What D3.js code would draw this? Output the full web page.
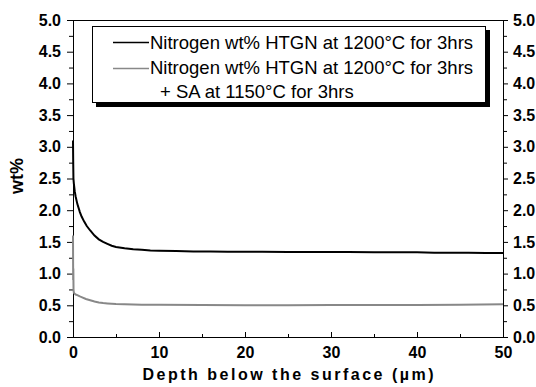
<!DOCTYPE html>
<html>
<head>
<meta charset="utf-8">
<script src="https://cdn.jsdelivr.net/npm/d3@7"></script>
<style>
  html, body { margin: 0; padding: 0; background: #fff; }
  svg { display: block; font-family: Arial, "Liberation Sans", sans-serif; }
</style>
</head>
<body>
<svg id="chart" width="536" height="387"></svg>
<script>
// ---- data ----
const htgnDepth = [0, 0.02, 0.05, 0.1, 0.2, 0.3, 0.5, 0.8, 1.0, 1.3, 1.6, 2.0, 2.5, 3.0, 3.5, 4.0, 4.5, 5.0, 6.0, 7.0, 8.0, 9.0, 10, 12, 14, 16, 18, 20, 22, 25, 28, 30, 32, 35, 38, 40, 42, 44, 46, 48, 50];
const htgnWt = [3.1, 2.8, 2.5, 2.42, 2.3, 2.22, 2.1, 1.97, 1.9, 1.82, 1.75, 1.68, 1.6, 1.54, 1.5, 1.47, 1.44, 1.42, 1.4, 1.385, 1.375, 1.365, 1.36, 1.355, 1.35, 1.35, 1.345, 1.345, 1.345, 1.34, 1.34, 1.34, 1.34, 1.335, 1.335, 1.335, 1.33, 1.33, 1.33, 1.325, 1.325];
const saDepth = [0, 0.02, 0.04, 0.06, 0.08, 0.1, 0.15, 0.2, 0.3, 0.5, 0.8, 1.0, 1.5, 2.0, 2.5, 3.0, 3.5, 4.0, 5, 6, 8, 10, 15, 20, 25, 30, 35, 40, 45, 50];
const saWt = [1.6, 0.9, 1.08, 0.75, 0.72, 0.7, 0.69, 0.68, 0.67, 0.66, 0.64, 0.63, 0.6, 0.58, 0.56, 0.545, 0.535, 0.53, 0.52, 0.515, 0.51, 0.51, 0.505, 0.5, 0.5, 0.505, 0.505, 0.505, 0.51, 0.515];
const xTicks = [0, 10, 20, 30, 40, 50];
const yTicks = [0, 0.5, 1, 1.5, 2, 2.5, 3, 3.5, 4, 4.5, 5];
const legendLabels = ["Nitrogen wt% HTGN at 1200°C for 3hrs", "Nitrogen wt% HTGN at 1200°C for 3hrs", "+ SA at 1150°C for 3hrs"];
const xTitle = "Depth below the surface (\u00b5m)";
const yTitle = "wt%";

const svg = d3.select("#chart");
const L = 73, R = 503, T = 20, B = 337;
const x = d3.scaleLinear().domain([0, 50]).range([L, R]);
const y = d3.scaleLinear().domain([0, 5]).range([B, T]);

const fmt = d3.format(".1f");
const minorY = d3.range(0.25, 5, 0.5);
const minorX = d3.range(5, 50, 10);

// left axis
const gl = svg.append("g").attr("transform", `translate(${L},0)`)
  .call(d3.axisLeft(y).tickValues(yTicks).tickFormat(fmt).tickSize(6).tickPadding(6));
gl.append("g").call(d3.axisLeft(y).tickValues(minorY).tickFormat("").tickSize(4));
// right axis
const gr = svg.append("g").attr("transform", `translate(${R},0)`)
  .call(d3.axisRight(y).tickValues(yTicks).tickFormat(fmt).tickSize(5).tickPadding(5));
gr.append("g").call(d3.axisRight(y).tickValues(minorY).tickFormat("").tickSize(4));
// bottom axis (ticks inward)
const gb = svg.append("g").attr("transform", `translate(0,${B})`)
  .call(d3.axisBottom(x).tickValues(xTicks).tickFormat(d3.format("d")).tickSizeInner(-5).tickSizeOuter(0).tickPadding(10));
gb.append("g").call(d3.axisBottom(x).tickValues(minorX).tickFormat("").tickSizeInner(-3).tickSizeOuter(0));

svg.selectAll(".domain").attr("stroke", "#000");
svg.selectAll(".tick line").attr("stroke", "#000");
svg.selectAll(".tick text").attr("font-size", 16).attr("font-weight", "bold").attr("fill", "#000")
  .attr("font-family", "Arial, 'Liberation Sans', sans-serif");

// top frame
svg.append("line").attr("x1", L).attr("x2", R).attr("y1", T + 0.5).attr("y2", T + 0.5).attr("stroke", "#000");

// lines
const line = d3.line().x(d => x(d[0])).y(d => y(d[1]));
svg.append("path").datum(saDepth.map((d, i) => [d, saWt[i]]))
  .attr("d", line).attr("fill", "none").attr("stroke", "#888").attr("stroke-width", 2);
svg.append("path").datum(htgnDepth.map((d, i) => [d, htgnWt[i]]))
  .attr("d", line).attr("fill", "none").attr("stroke", "#000").attr("stroke-width", 2);

// legend
const lg = svg.append("g");
lg.append("rect").attr("x", 96).attr("y", 30).attr("width", 394).attr("height", 77).attr("fill", "#000");
lg.append("rect").attr("x", 92.5).attr("y", 26.5).attr("width", 393).attr("height", 76).attr("fill", "#fff").attr("stroke", "#000");
lg.append("line").attr("x1", 113).attr("x2", 149).attr("y1", 42.5).attr("y2", 42.5).attr("stroke", "#000").attr("stroke-width", 1.5);
lg.append("line").attr("x1", 113).attr("x2", 149).attr("y1", 68.5).attr("y2", 68.5).attr("stroke", "#888").attr("stroke-width", 1.5);
const legPos = [[150, 49], [150, 74], [160, 98]];
legendLabels.forEach((t, i) => {
  lg.append("text").attr("x", legPos[i][0]).attr("y", legPos[i][1])
    .attr("font-size", 18.5).attr("fill", "#000").text(t);
});

// axis titles
svg.append("text").attr("x", 288).attr("y", 380).attr("text-anchor", "middle")
  .attr("font-size", 16).attr("font-weight", "bold").attr("textLength", 291).attr("lengthAdjust", "spacing").text(xTitle);
svg.append("text").attr("transform", "translate(23,176) rotate(-90)").attr("text-anchor", "middle")
  .attr("font-size", 18).attr("font-weight", "bold").text(yTitle);
</script>
</body>
</html>
